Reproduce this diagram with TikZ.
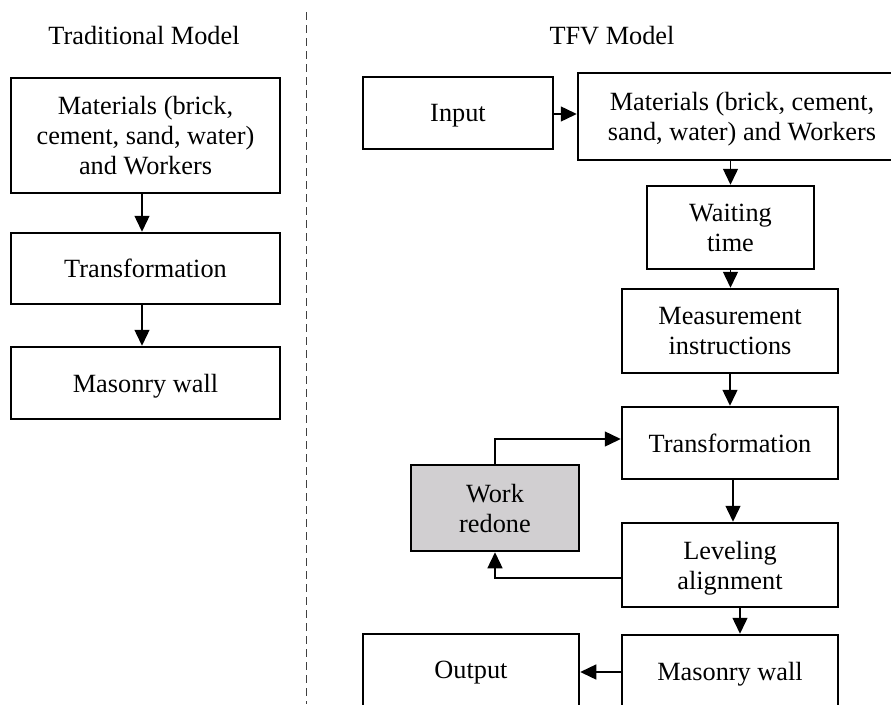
\documentclass[tikz,border=0pt]{standalone}
\usepackage{fontspec}
\setmainfont{Liberation Serif}
\usetikzlibrary{arrows.meta}
\definecolor{redogray}{HTML}{D1CFD1}
\begin{document}
\begin{tikzpicture}[x=1pt,y=-1pt,
  txt/.style={font=\fontsize{26.3}{30}\selectfont},
  box/.style={txt,draw,line width=2.5pt,align=center,inner sep=0pt,text depth=0pt},
  conn/.style={line width=1.4pt,-{Triangle[length=16pt,width=15pt]}},
  divider/.style={line width=1pt,black!75,dash pattern=on 8pt off 5pt}]
\useasboundingbox (0,0) rectangle (891,704);
\begin{scope}
\clip (0,0) rectangle (891,704);

% column titles
\node[txt] (ttrad) at (144,36) {Traditional Model};
\node[txt] (ttfv) at (612,36) {TFV Model};

% separator between the two models
\coordinate (dtop) at (306,12);
\coordinate (dbot) at (306,704);
\draw[divider] (dtop) -- (dbot);

% traditional model
\node[box,minimum width=269,minimum height=115] (lmat) at (145.5,135.5)
  {Materials (brick,\\cement, sand, water)\\and Workers};
\node[box,minimum width=269,minimum height=71] (ltrans) at (145.5,268.5) {Transformation};
\node[box,minimum width=269,minimum height=72] (lwall) at (145.5,383) {Masonry wall};

\draw[conn] ([xshift=-3.5pt]lmat.south) -- ([xshift=-3.5pt]ltrans.north);
\draw[conn] ([xshift=-3.5pt]ltrans.south) -- ([xshift=-3.5pt]lwall.north);

% TFV model
\node[box,minimum width=190,minimum height=72] (input) at (458,113) {Input};
\node[box,minimum width=328,minimum height=87] (rmat) at (742,116.5)
  {Materials (brick, cement,\\sand, water) and Workers};
\node[box,minimum width=167,minimum height=83] (wait) at (730.5,227.5) {Waiting\\time};
\node[box,minimum width=216,minimum height=84] (meas) at (730,331) {Measurement\\instructions};
\node[box,minimum width=216,minimum height=72] (rtrans) at (730,443) {Transformation};
\node[box,minimum width=168,minimum height=86,fill=redogray] (redo) at (495,508) {Work\\redone};
\node[box,minimum width=216,minimum height=84] (level) at (730,565) {Leveling\\alignment};
\node[box,minimum width=216,minimum height=72] (rwall) at (730,671) {Masonry wall};
\node[box,minimum width=216,minimum height=72] (output) at (471,670) {Output};

\draw[conn] ([yshift=-1pt]input.east) -- ([yshift=-1pt]input.east -| rmat.west);
\draw[conn] (wait.north |- rmat.south) -- (wait.north);
\draw[conn] (wait.south) -- (wait.south |- meas.north);
\draw[conn] (meas.south) -- (rtrans.north);
\draw[conn] ([xshift=3pt]rtrans.south) -- ([xshift=3pt]level.north);
\draw[conn] ([xshift=10pt]level.south) -- ([xshift=10pt]rwall.north);
\draw[conn] (redo.north) |- ([yshift=4pt]rtrans.west);
\draw[conn] ([yshift=-13pt]level.west) -| (redo.south);
\draw[conn] ([yshift=-1pt]rwall.west) -- ([yshift=-1pt]rwall.west -| output.east);
\end{scope}
\end{tikzpicture}
\end{document}
